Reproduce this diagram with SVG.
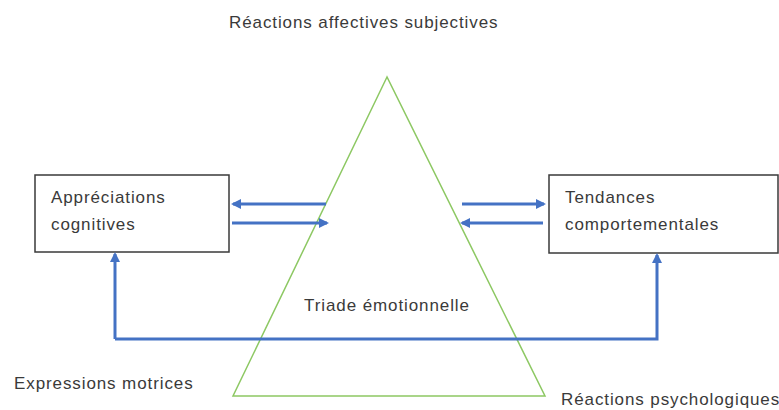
<svg xmlns="http://www.w3.org/2000/svg" width="779" height="410" viewBox="0 0 779 410">
<style>
text{font-family:"Liberation Sans",Arial,sans-serif;font-size:17px;letter-spacing:0.9px;fill:#3a3a3a}
.box{fill:#fff;stroke:#3a3a3a;stroke-width:1.5}
.c{fill:none;stroke:#4472C4;stroke-width:3}
</style>
<defs>
<marker id="ah" markerWidth="10" markerHeight="10" refX="8" refY="5" orient="auto" markerUnits="userSpaceOnUse">
<path d="M0,0 L10,5 L0,10 z" fill="#4472C4"/>
</marker>
</defs>
<rect width="779" height="410" fill="#fff"/>
<g id="triangle">
<polygon points="387,77 233,396 545,396" fill="none" stroke="#8DC863" stroke-width="1.5"/>
<text x="387" y="311" text-anchor="middle">Triade émotionnelle</text>
</g>
<g id="top-label"><text x="229" y="28">Réactions affectives subjectives</text></g>
<g id="left-label"><text x="14" y="389">Expressions motrices</text></g>
<g id="right-label"><text x="561" y="405">Réactions psychologiques</text></g>
<g id="appreciations">
<rect class="box" x="35" y="175" width="194" height="77"/>
<text x="51" y="203">Appréciations</text>
<text x="51" y="230">cognitives</text>
</g>
<g id="tendances">
<rect class="box" x="549" y="175" width="229" height="78"/>
<text x="565" y="203">Tendances</text>
<text x="565" y="230">comportementales</text>
</g>
<g id="connectors">
<line class="c" x1="326" y1="204" x2="233" y2="204" marker-end="url(#ah)"/>
<line class="c" x1="232" y1="223" x2="327" y2="223" marker-end="url(#ah)"/>
<line class="c" x1="462" y1="204" x2="544" y2="204" marker-end="url(#ah)"/>
<line class="c" x1="543" y1="223" x2="462" y2="223" marker-end="url(#ah)"/>
<path class="c" d="M115,339 L115,254" marker-end="url(#ah)"/>
<path class="c" d="M115,339 L657,339 L657,255" marker-end="url(#ah)"/>
</g>
</svg>
